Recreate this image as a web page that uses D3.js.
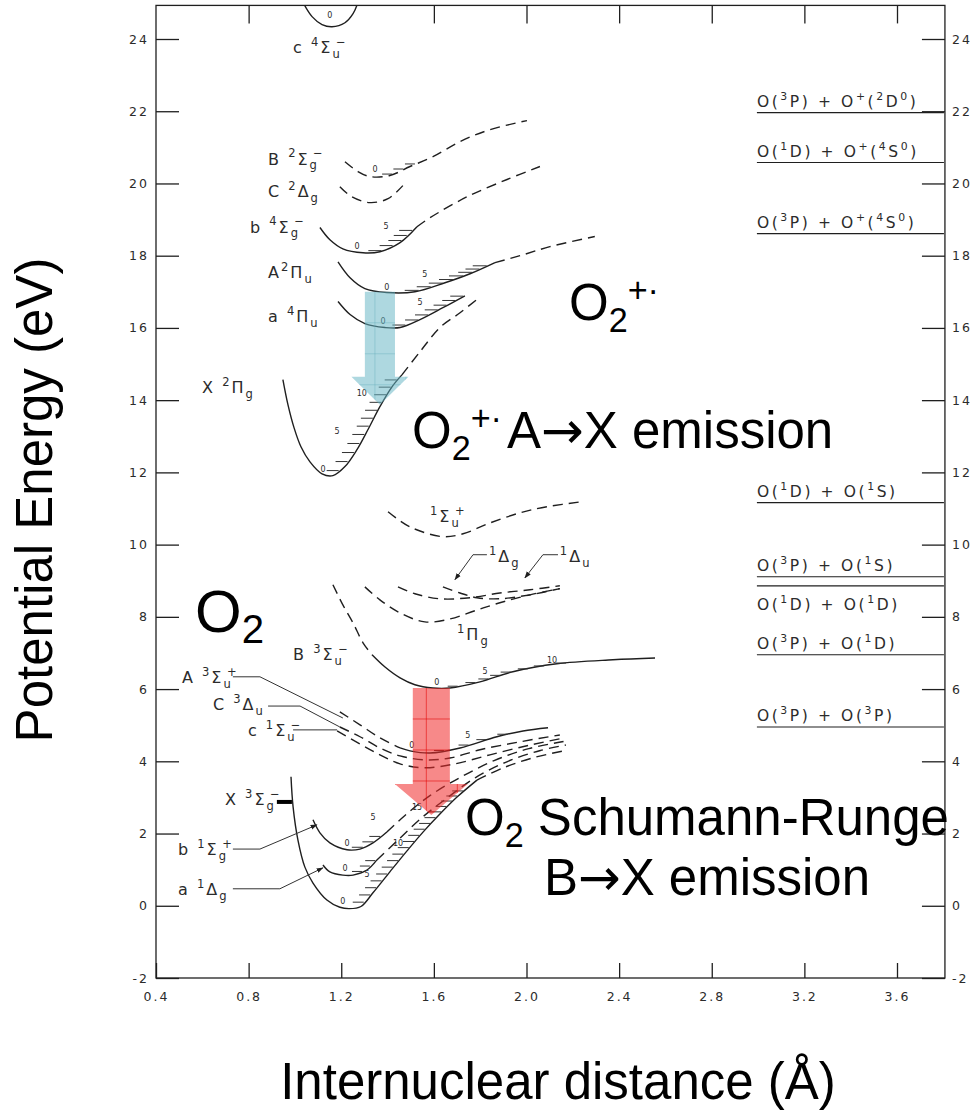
<!DOCTYPE html>
<html>
<head>
<meta charset="utf-8">
<title>O2 and O2+ potential energy curves</title>
<script src="https://cdn.jsdelivr.net/npm/d3@7"></script>
<style>
  html, body { margin: 0; padding: 0; background: #fff; }
  svg { display: block; }
  text { white-space: pre; }
  .scan { font-family: "DejaVu Sans", sans-serif; fill: #2b2b2b; letter-spacing: 3px; }
  .tight { letter-spacing: 2px; }
  .big { font-family: "Liberation Sans", Arial, Helvetica, sans-serif; fill: #000; }
  .arrowGlyph { font-family: "DejaVu Sans", sans-serif; }
</style>
</head>
<body>
<svg id="chart" width="976" height="1120"></svg>
<script>
// ---------- axis ticks ----------
const rTicks = [0.4, 0.8, 1.2, 1.6, 2.0, 2.4, 2.8, 3.2, 3.6];
const rTopTicks = [0.8, 1.6, 2.0, 2.4, 2.8, 3.2, 3.6];
const eTicks = [-2, 0, 2, 4, 6, 8, 10, 12, 14, 16, 18, 20, 22, 24];

// ---------- potential curves, points are [r (Å), E (eV)] ----------
// O2+ states
const c4SigmaU = [[1.035,25.01],[1.074,24.62],[1.117,24.40],[1.160,24.34],[1.216,24.45],[1.251,24.70],[1.272,25.01]];
const B2SigmaG = [[1.216,20.60],[1.272,20.33],[1.324,20.19],[1.410,20.22],[1.497,20.47],[1.596,20.74],[1.713,21.16],[1.842,21.49],[2.002,21.74]];
const C2DeltaG = [[1.194,19.91],[1.246,19.63],[1.324,19.47],[1.402,19.58],[1.466,19.94]];
const b4SigmaG = [[1.108,18.78],[1.151,18.44],[1.207,18.19],[1.294,18.08],[1.367,18.11],[1.454,18.36],[1.527,18.80]];
const b4SigmaGOuter = [[1.527,18.80],[1.583,19.05],[1.743,19.63],[1.916,20.11],[2.058,20.47]];
const A2PiU = [[1.186,17.83],[1.238,17.39],[1.302,17.09],[1.397,16.98],[1.518,17.00],[1.648,17.25],[1.756,17.50],[1.864,17.81]];
const A2PiUOuter = [[1.864,17.81],[1.972,18.00],[2.101,18.25],[2.295,18.53]];
const a4PiU = [[1.186,16.73],[1.238,16.37],[1.302,16.12],[1.389,16.01],[1.454,16.01],[1.540,16.23],[1.639,16.56],[1.734,16.89]];
const X2PiG = [[0.948,14.57],[0.970,13.87],[0.996,13.24],[1.026,12.71],[1.065,12.29],[1.117,11.96],[1.164,11.91],[1.216,12.16],[1.268,12.63],[1.315,13.18],[1.367,13.82],[1.419,14.37],[1.462,14.70]];
const X2PiGOuter = [[1.462,14.70],[1.540,15.34],[1.626,16.01],[1.713,16.42],[1.790,16.81]];

// O2 excited singlets near 8-11 eV
const S1SigmaU = [[1.402,10.91],[1.497,10.49],[1.639,10.22],[1.726,10.30],[1.842,10.60],[1.972,10.88],[2.088,11.05],[2.244,11.19]];
const D1DeltaU = [[1.445,8.83],[1.518,8.64],[1.626,8.50],[1.756,8.53],[1.885,8.66],[2.015,8.75],[2.144,8.86]];
const D1DeltaG = [[1.639,8.83],[1.713,8.66],[1.786,8.53],[1.885,8.50],[2.015,8.61],[2.144,8.78]];
const P1PiG = [[1.302,8.83],[1.367,8.47],[1.454,8.11],[1.561,7.86],[1.669,7.94],[1.777,8.17],[1.885,8.39],[2.015,8.61],[2.144,8.78]];

// O2 B, A, C, c states
const B3SigmaUInner = [[1.164,8.89],[1.207,8.33],[1.251,7.83],[1.294,7.28],[1.333,6.95]];
const B3SigmaU = [[1.333,6.95],[1.389,6.61],[1.454,6.31],[1.518,6.12],[1.596,6.03],[1.669,6.03],[1.799,6.20],[1.941,6.48],[2.131,6.70],[2.373,6.81],[2.555,6.86]];
const A3SigmaUInner = [[1.194,5.37],[1.281,5.01],[1.367,4.65],[1.454,4.37]];
const A3SigmaU = [[1.454,4.37],[1.497,4.29],[1.583,4.23],[1.713,4.37],[1.872,4.68],[1.985,4.84],[2.093,4.93]];
const C3DeltaU = [[1.194,4.95],[1.281,4.68],[1.367,4.37],[1.454,4.15],[1.561,4.04],[1.669,4.09],[1.799,4.32],[1.972,4.54],[2.144,4.73]];
const c1SigmaU = [[1.182,4.84],[1.281,4.48],[1.367,4.18],[1.454,3.93],[1.561,3.82],[1.691,3.93],[1.842,4.18],[2.015,4.45],[2.166,4.65]];

// O2 low-lying states
const X3SigmaG = [[0.983,3.57],[0.992,2.74],[1.013,1.82],[1.043,1.07],[1.078,0.63],[1.138,0.16],[1.194,-0.04],[1.235,-0.08],[1.285,-0.02],[1.337,0.36],[1.410,0.94],[1.484,1.52],[1.553,2.04],[1.626,2.54],[1.700,3.01],[1.786,3.48]];
const X3SigmaGOuter = [[1.786,3.48],[1.900,3.82],[2.030,4.10],[2.170,4.30]];
const b1SigmaG = [[1.078,2.38],[1.108,2.02],[1.151,1.74],[1.225,1.55],[1.281,1.57],[1.337,1.74],[1.397,2.04]];
const b1SigmaGOuter = [[1.397,2.04],[1.475,2.50],[1.583,3.05],[1.713,3.55],[1.860,4.02],[2.010,4.35],[2.160,4.55]];
const a1DeltaG = [[1.121,1.13],[1.151,0.94],[1.207,0.85],[1.251,0.85],[1.311,0.99],[1.354,1.27]];
const a1DeltaGOuter = [[1.354,1.27],[1.450,1.85],[1.550,2.45],[1.650,2.95],[1.780,3.55],[1.920,4.00],[2.060,4.30],[2.170,4.45]];

// vibrational levels (eV) marked on the outer walls
const levX2PiG = [12.05, 12.3, 12.55, 12.8, 13.05, 13.28, 13.5, 13.72, 13.94, 14.15, 14.36, 14.56];
const levA4PiU = [16.08, 16.22, 16.36, 16.5, 16.63, 16.76, 16.88];
const levA2PiU = [17.04, 17.14, 17.24, 17.34, 17.44, 17.54, 17.63, 17.72];
const levB4SigmaG = [18.14, 18.28, 18.42, 18.56, 18.7];
const levB2SigmaG = [20.26, 20.4, 20.54];
const levB3SigmaU = [6.08, 6.18, 6.28, 6.38, 6.47, 6.56, 6.64, 6.72];
const levA3SigmaU = [4.3, 4.45, 4.6, 4.75];
const levX3SigmaG = [0.1, 0.3, 0.5, 0.69, 0.88, 1.07, 1.25, 1.43, 1.61, 1.78, 1.95, 2.12, 2.28, 2.44, 2.6, 2.75, 2.9, 3.04, 3.18];
const levA1DeltaG = [0.95, 1.1, 1.25];
const levB1SigmaG = [1.62, 1.77, 1.92, 2.07];

// vibrational quantum numbers written beside the levels: [r, E, v]
const vibNumbers = [
  [1.151,24.59,"0"],[1.346,20.33,"0"],[1.268,18.19,"0"],[1.393,18.75,"5"],
  [1.397,17.06,"0"],[1.561,17.42,"5"],[1.380,16.12,"0"],[1.540,16.64,"5"],
  [1.121,12.02,"0"],[1.182,13.07,"5"],[1.289,14.12,"10"],
  [1.613,6.12,"0"],[1.821,6.42,"5"],[2.110,6.73,"10"],
  [1.505,4.37,"0"],[1.747,4.65,"5"],
  [1.225,1.66,"0"],[1.337,2.38,"5"],[1.216,0.96,"0"],[1.311,0.80,"5"],
  [1.207,0.05,"0"],[1.445,1.66,"10"],[1.527,2.65,"15"]
];

// dissociation limits
const limitNames = ["O(^3P) + O^+(^2D^0)", "O(^1D) + O^+(^4S^0)", "O(^3P) + O^+(^4S^0)",
  "O(^1D) + O(^1S)", "O(^3P) + O(^1S)", "O(^1D) + O(^1D)", "O(^3P) + O(^1D)", "O(^3P) + O(^3P)"];
const limitEnergies = [21.96, 20.58, 18.61, 11.16, 9.11, 8.86, 6.95, 4.95];

// state names and where each one is written: [r, E] of the text baseline start
const stateNames = ["c ^4Σ_u^−", "B ^2Σ_g^−", "C ^2Δ_g", "b ^4Σ_g^−", "A^2Π_u", "a ^4Π_u", "X ^2Π_g",
  "^1Σ_u^+", "^1Δ_g", "^1Δ_u", "^1Π_g", "B ^3Σ_u^−", "A ^3Σ_u^+", "C ^3Δ_u", "c ^1Σ_u^−",
  "X ^3Σ_g^−", "b ^1Σ_g^+", "a ^1Δ_g"];
const stateNameAt = [[0.992,23.62],[0.884,20.52],[0.884,19.63],[0.806,18.64],[0.884,17.39],[0.884,16.17],[0.599,14.20],
  [1.583,10.63],[1.838,9.52],[2.144,9.52],[1.700,7.36],[0.992,6.81],[0.512,6.17],[0.646,5.42],[0.797,4.70],
  [0.698,2.79],[0.495,1.41],[0.495,0.30]];

// leader lines from names to curves
const leaderDeltaG = [[1.829,9.72],[1.769,9.72],[1.691,9.03]];
const leaderDeltaU = [[2.136,9.72],[2.071,9.72],[1.993,9.08]];
const leaderA3 = [[0.732,6.34],[0.849,6.34],[1.207,5.20]];
const leaderC3 = [[0.884,5.53],[1.022,5.53],[1.194,4.95]];
const leaderc1 = [[0.992,4.87],[1.182,4.87]];
const leaderb1 = [[0.732,1.57],[0.849,1.57],[1.095,2.24]];
const leadera1 = [[0.732,0.47],[0.935,0.47],[1.121,1.05]];

// emission transitions: r (Å), upper E, head start E, tip E, shaft and head widths (Å)
const o2PlusAX = { r: 1.367, from: 17.0, head: 14.65, to: 13.87, shaft: 0.13, width: 0.246 };
const o2BX = { r: 1.589, from: 6.03, head: 3.37, to: 2.515, shaft: 0.16, width: 0.315 };

// ---------- scales ----------
const rMax = 3.807, eMax = 24.93;
const x = d3.scaleLinear().domain([0.4, 3.6]).range([156, 897]);
const y = d3.scaleLinear().domain([-2, 24]).range([978, 39]);
const svg = d3.select("#chart");
const ink = "#1f1f1f";

const L = x(0.4), R = x(rMax), T = y(eMax), B = y(-2);

const defs = svg.append("defs");
defs.append("clipPath").attr("id", "plotClip")
  .append("rect").attr("x", L).attr("y", T).attr("width", R - L).attr("height", B - T);
defs.append("marker").attr("id", "tipHead").attr("viewBox", "0 0 10 10")
  .attr("refX", 9).attr("refY", 5).attr("markerWidth", 7).attr("markerHeight", 7)
  .attr("orient", "auto-start-reverse").attr("markerUnits", "userSpaceOnUse")
  .append("path").attr("d", "M0,1.5 L10,5 L0,8.5 Z").attr("fill", ink);

// ---------- frame and axes ----------
const fmtE = d => (d < 0 ? "-" + Math.abs(d) : String(d));
function styleAxis(g) {
  g.select(".domain").remove();
  g.attr("font-family", null).attr("font-size", null);
  g.selectAll(".tick line").attr("stroke", ink).attr("stroke-width", 1.3);
  g.selectAll(".tick text").attr("class", "scan tight").attr("font-size", 12.5).attr("fill", "#333");
}
svg.append("g").attr("transform", `translate(${L},0)`)
  .call(d3.axisLeft(y).tickValues(eTicks).tickSizeInner(-23).tickSizeOuter(0).tickPadding(7).tickFormat(fmtE))
  .call(styleAxis);
svg.append("g").attr("transform", `translate(${R},0)`)
  .call(d3.axisRight(y).tickValues(eTicks).tickSizeInner(-23).tickSizeOuter(0).tickPadding(7).tickFormat(fmtE))
  .call(styleAxis);
svg.append("g").attr("transform", `translate(0,${B})`)
  .call(d3.axisBottom(x).tickValues(rTicks).tickSizeInner(-15).tickSizeOuter(0).tickPadding(14).tickFormat(d3.format(".1f")))
  .call(styleAxis);
svg.append("g").attr("transform", `translate(0,${T})`)
  .call(d3.axisTop(x).tickValues(rTopTicks).tickSizeInner(-18).tickSizeOuter(0).tickFormat(""))
  .call(styleAxis);
svg.append("rect").attr("x", L).attr("y", T).attr("width", R - L).attr("height", B - T)
  .attr("fill", "none").attr("stroke", ink).attr("stroke-width", 1.3);

// ---------- curves ----------
const curveLine = d3.line().x(d => x(d[0])).y(d => y(d[1])).curve(d3.curveCatmullRom.alpha(0.5));
const solidCurves = [c4SigmaU, b4SigmaG, A2PiU, a4PiU, X2PiG, B3SigmaU, A3SigmaU, X3SigmaG, b1SigmaG, a1DeltaG];
const dashedCurves = [B2SigmaG, C2DeltaG, b4SigmaGOuter, A2PiUOuter, X2PiGOuter, S1SigmaU, D1DeltaU, D1DeltaG, P1PiG,
  B3SigmaUInner, A3SigmaUInner, C3DeltaU, c1SigmaU, X3SigmaGOuter, b1SigmaGOuter, a1DeltaGOuter];
const curveLayer = svg.append("g").attr("clip-path", "url(#plotClip)").attr("fill", "none").attr("stroke", ink);
curveLayer.selectAll("path.solid").data(solidCurves).join("path").attr("class", "solid")
  .attr("d", curveLine).attr("stroke-width", 1.4);
curveLayer.selectAll("path.dashed").data(dashedCurves).join("path").attr("class", "dashed")
  .attr("d", curveLine).attr("stroke-width", 1.4).attr("stroke-dasharray", "10 6");

// ---------- vibrational level ticks ----------
function crossRight(pts, E) {
  const iMin = d3.minIndex(pts, d => d[1]);
  for (let i = iMin; i < pts.length - 1; i++) {
    const [r0, e0] = pts[i], [r1, e1] = pts[i + 1];
    if ((e0 - E) * (e1 - E) <= 0 && e0 !== e1) return r0 + (E - e0) * (r1 - r0) / (e1 - e0);
  }
  return null;
}
const levelSets = [
  { pts: X2PiG.concat(X2PiGOuter), lev: levX2PiG, len: 12 },
  { pts: a4PiU, lev: levA4PiU, len: 13 },
  { pts: A2PiU, lev: levA2PiU, len: 14 },
  { pts: b4SigmaG, lev: levB4SigmaG, len: 13 },
  { pts: B2SigmaG, lev: levB2SigmaG, len: 10 },
  { pts: B3SigmaU, lev: levB3SigmaU, len: 10 },
  { pts: A3SigmaU, lev: levA3SigmaU, len: 10 },
  { pts: X3SigmaG, lev: levX3SigmaG, len: 11 },
  { pts: a1DeltaG, lev: levA1DeltaG, len: 10 },
  { pts: b1SigmaG, lev: levB1SigmaG, len: 11 }
];
const levelSegs = [];
levelSets.forEach(s => s.lev.forEach(E => {
  const r = crossRight(s.pts, E);
  if (r !== null) levelSegs.push({ x2: x(r) - 1, x1: x(r) - 1 - s.len, y: y(E) });
}));
svg.append("g").attr("stroke", "#333").attr("stroke-width", 1)
  .selectAll("line").data(levelSegs).join("line")
  .attr("x1", d => d.x1).attr("x2", d => d.x2).attr("y1", d => d.y).attr("y2", d => d.y);

svg.append("g").attr("class", "scan").style("letter-spacing", "0px")
  .selectAll("text").data(vibNumbers).join("text")
  .attr("x", d => x(d[0])).attr("y", d => y(d[1])).attr("text-anchor", "middle")
  .attr("font-size", 8).text(d => d[2]);

// ---------- rich text (super/subscripts, arrows in a wider face) ----------
function richText(parent, markup, opt) {
  const { size, scale = 0.7, sup = 0.42, sub = 0.28, stack = false } = opt;
  const text = parent.append("text");
  const toks = [];
  for (let i = 0; i < markup.length;) {
    const c = markup[i];
    if (c === "^" || c === "_") {
      let s;
      if (markup[i + 1] === "{") { const j = markup.indexOf("}", i + 2); s = markup.slice(i + 2, j); i = j + 1; }
      else { s = markup[i + 1]; i += 2; }
      toks.push({ kind: c === "^" ? "sup" : "sub", s });
    } else {
      let j = i;
      while (j < markup.length && markup[j] !== "^" && markup[j] !== "_") j++;
      markup.slice(i, j).split(/(→)/).filter(s => s.length)
        .forEach(s => toks.push({ kind: "base", s, arrow: s === "→" }));
      i = j;
    }
  }
  let off = 0, prev = null;
  toks.forEach(tk => {
    const target = tk.kind === "sup" ? -sup * size : tk.kind === "sub" ? sub * size : 0;
    const ts = text.append("tspan")
      .attr("font-size", tk.kind === "base" ? size : size * scale)
      .attr("dy", target - off)
      .text(tk.s);
    if (tk.arrow) ts.attr("class", "arrowGlyph");
    if (stack && tk.kind === "sup" && prev && prev.kind === "sub") {
      ts.attr("dx", -prev.node.getComputedTextLength());
    }
    off = target;
    prev = { kind: tk.kind, node: ts.node() };
  });
  return text;
}

// ---------- dissociation limits ----------
const limG = svg.append("g");
limitEnergies.forEach((E, i) => {
  limG.append("line").attr("x1", x(2.995)).attr("x2", R - 1).attr("y1", y(E)).attr("y2", y(E))
    .attr("stroke", ink).attr("stroke-width", 1.2);
  const below = limitNames[i] === "O(^1D) + O(^1D)";
  richText(limG, limitNames[i], { size: 15.5, scale: 0.7, sup: 0.45 })
    .attr("class", "scan").style("letter-spacing", "2.6px")
    .attr("x", x(2.995)).attr("y", below ? y(E) + 24 : y(E) - 6);
});

// ---------- state names and leaders ----------
const nameG = svg.append("g");
stateNames.forEach((s, i) => {
  richText(nameG, s, { size: 16, scale: 0.72, sup: 0.45, sub: 0.3, stack: true })
    .attr("class", "scan tight").attr("x", x(stateNameAt[i][0])).attr("y", y(stateNameAt[i][1]));
});
const leaderLine = d3.line().x(d => x(d[0])).y(d => y(d[1]));
const leaders = [leaderDeltaG, leaderDeltaU, leaderA3, leaderC3, leaderc1, leaderb1, leadera1];
const withHead = [true, true, false, false, false, true, true];
svg.append("g").attr("fill", "none").attr("stroke", "#333").attr("stroke-width", 1)
  .selectAll("path").data(leaders).join("path")
  .attr("d", leaderLine)
  .attr("marker-end", (d, i) => withHead[i] ? "url(#tipHead)" : null);
// short heavy bar beside the X 3Σg− name
svg.append("line").attr("x1", x(0.922)).attr("x2", x(0.987)).attr("y1", y(2.875)).attr("y2", y(2.875))
  .attr("stroke", "#000").attr("stroke-width", 4);

// ---------- emission arrows ----------
function arrowPath(a) {
  const p = d3.path();
  p.moveTo(x(a.r - a.shaft / 2), y(a.from));
  p.lineTo(x(a.r + a.shaft / 2), y(a.from));
  p.lineTo(x(a.r + a.shaft / 2), y(a.head));
  p.lineTo(x(a.r + a.width / 2), y(a.head));
  p.lineTo(x(a.r), y(a.to));
  p.lineTo(x(a.r - a.width / 2), y(a.head));
  p.lineTo(x(a.r - a.shaft / 2), y(a.head));
  p.closePath();
  return p.toString();
}
function drawArrow(a, id, fill, grid) {
  defs.append("clipPath").attr("id", id).append("path").attr("d", arrowPath(a));
  svg.append("path").attr("d", arrowPath(a)).attr("fill", fill);
  const g = svg.append("g").attr("clip-path", `url(#${id})`).attr("stroke", grid).attr("stroke-width", 1);
  const x0 = x(a.r - a.width / 2), x1 = x(a.r + a.width / 2), y0 = y(a.from), y1 = y(a.to);
  const cx = x(a.r) - 5;
  for (let gx = cx - 31; gx <= x1; gx += 31) g.append("line").attr("x1", gx).attr("x2", gx).attr("y1", y0).attr("y2", y1);
  for (let gy = y0 + 31; gy <= y1; gy += 31) g.append("line").attr("x1", x0).attr("x2", x1).attr("y1", gy).attr("y2", gy);
}
drawArrow(o2PlusAX, "axClip", "rgba(100,180,195,0.52)", "rgba(90,165,180,0.35)");
drawArrow(o2BX, "bxClip", "rgba(240,45,45,0.56)", "rgba(225,0,0,0.55)");

// ---------- large annotations ----------
const big = svg.append("g").attr("class", "big");
richText(big, "O_2^{+·}", { size: 51, scale: 0.67, sup: 0.36, sub: 0.24 }).attr("x", 569).attr("y", 320);
const axT = richText(big, "O_2^{+·}A→X emission", { size: 51, scale: 0.67, sup: 0.36, sub: 0.24 }).attr("x", 412).attr("y", 448);
axT.selectAll("tspan").filter((d, i) => i === 3).attr("dx", 5);
richText(big, "O_2", { size: 60, scale: 0.67, sub: 0.19 }).attr("x", 195).attr("y", 632);
richText(big, "O_2 Schumann-Runge", { size: 51, scale: 0.67, sub: 0.24 }).attr("x", 707).attr("y", 835).attr("text-anchor", "middle");
richText(big, "B→X emission", { size: 51 }).attr("x", 707).attr("y", 895).attr("text-anchor", "middle");

// axis titles
big.append("text").attr("transform", "translate(52,500) rotate(-90)").attr("text-anchor", "middle")
  .attr("font-size", 51).text("Potential Energy (eV)");
big.append("text").attr("x", 558).attr("y", 1099).attr("text-anchor", "middle")
  .attr("font-size", 51).text("Internuclear distance (Å)");
</script>
</body>
</html>
